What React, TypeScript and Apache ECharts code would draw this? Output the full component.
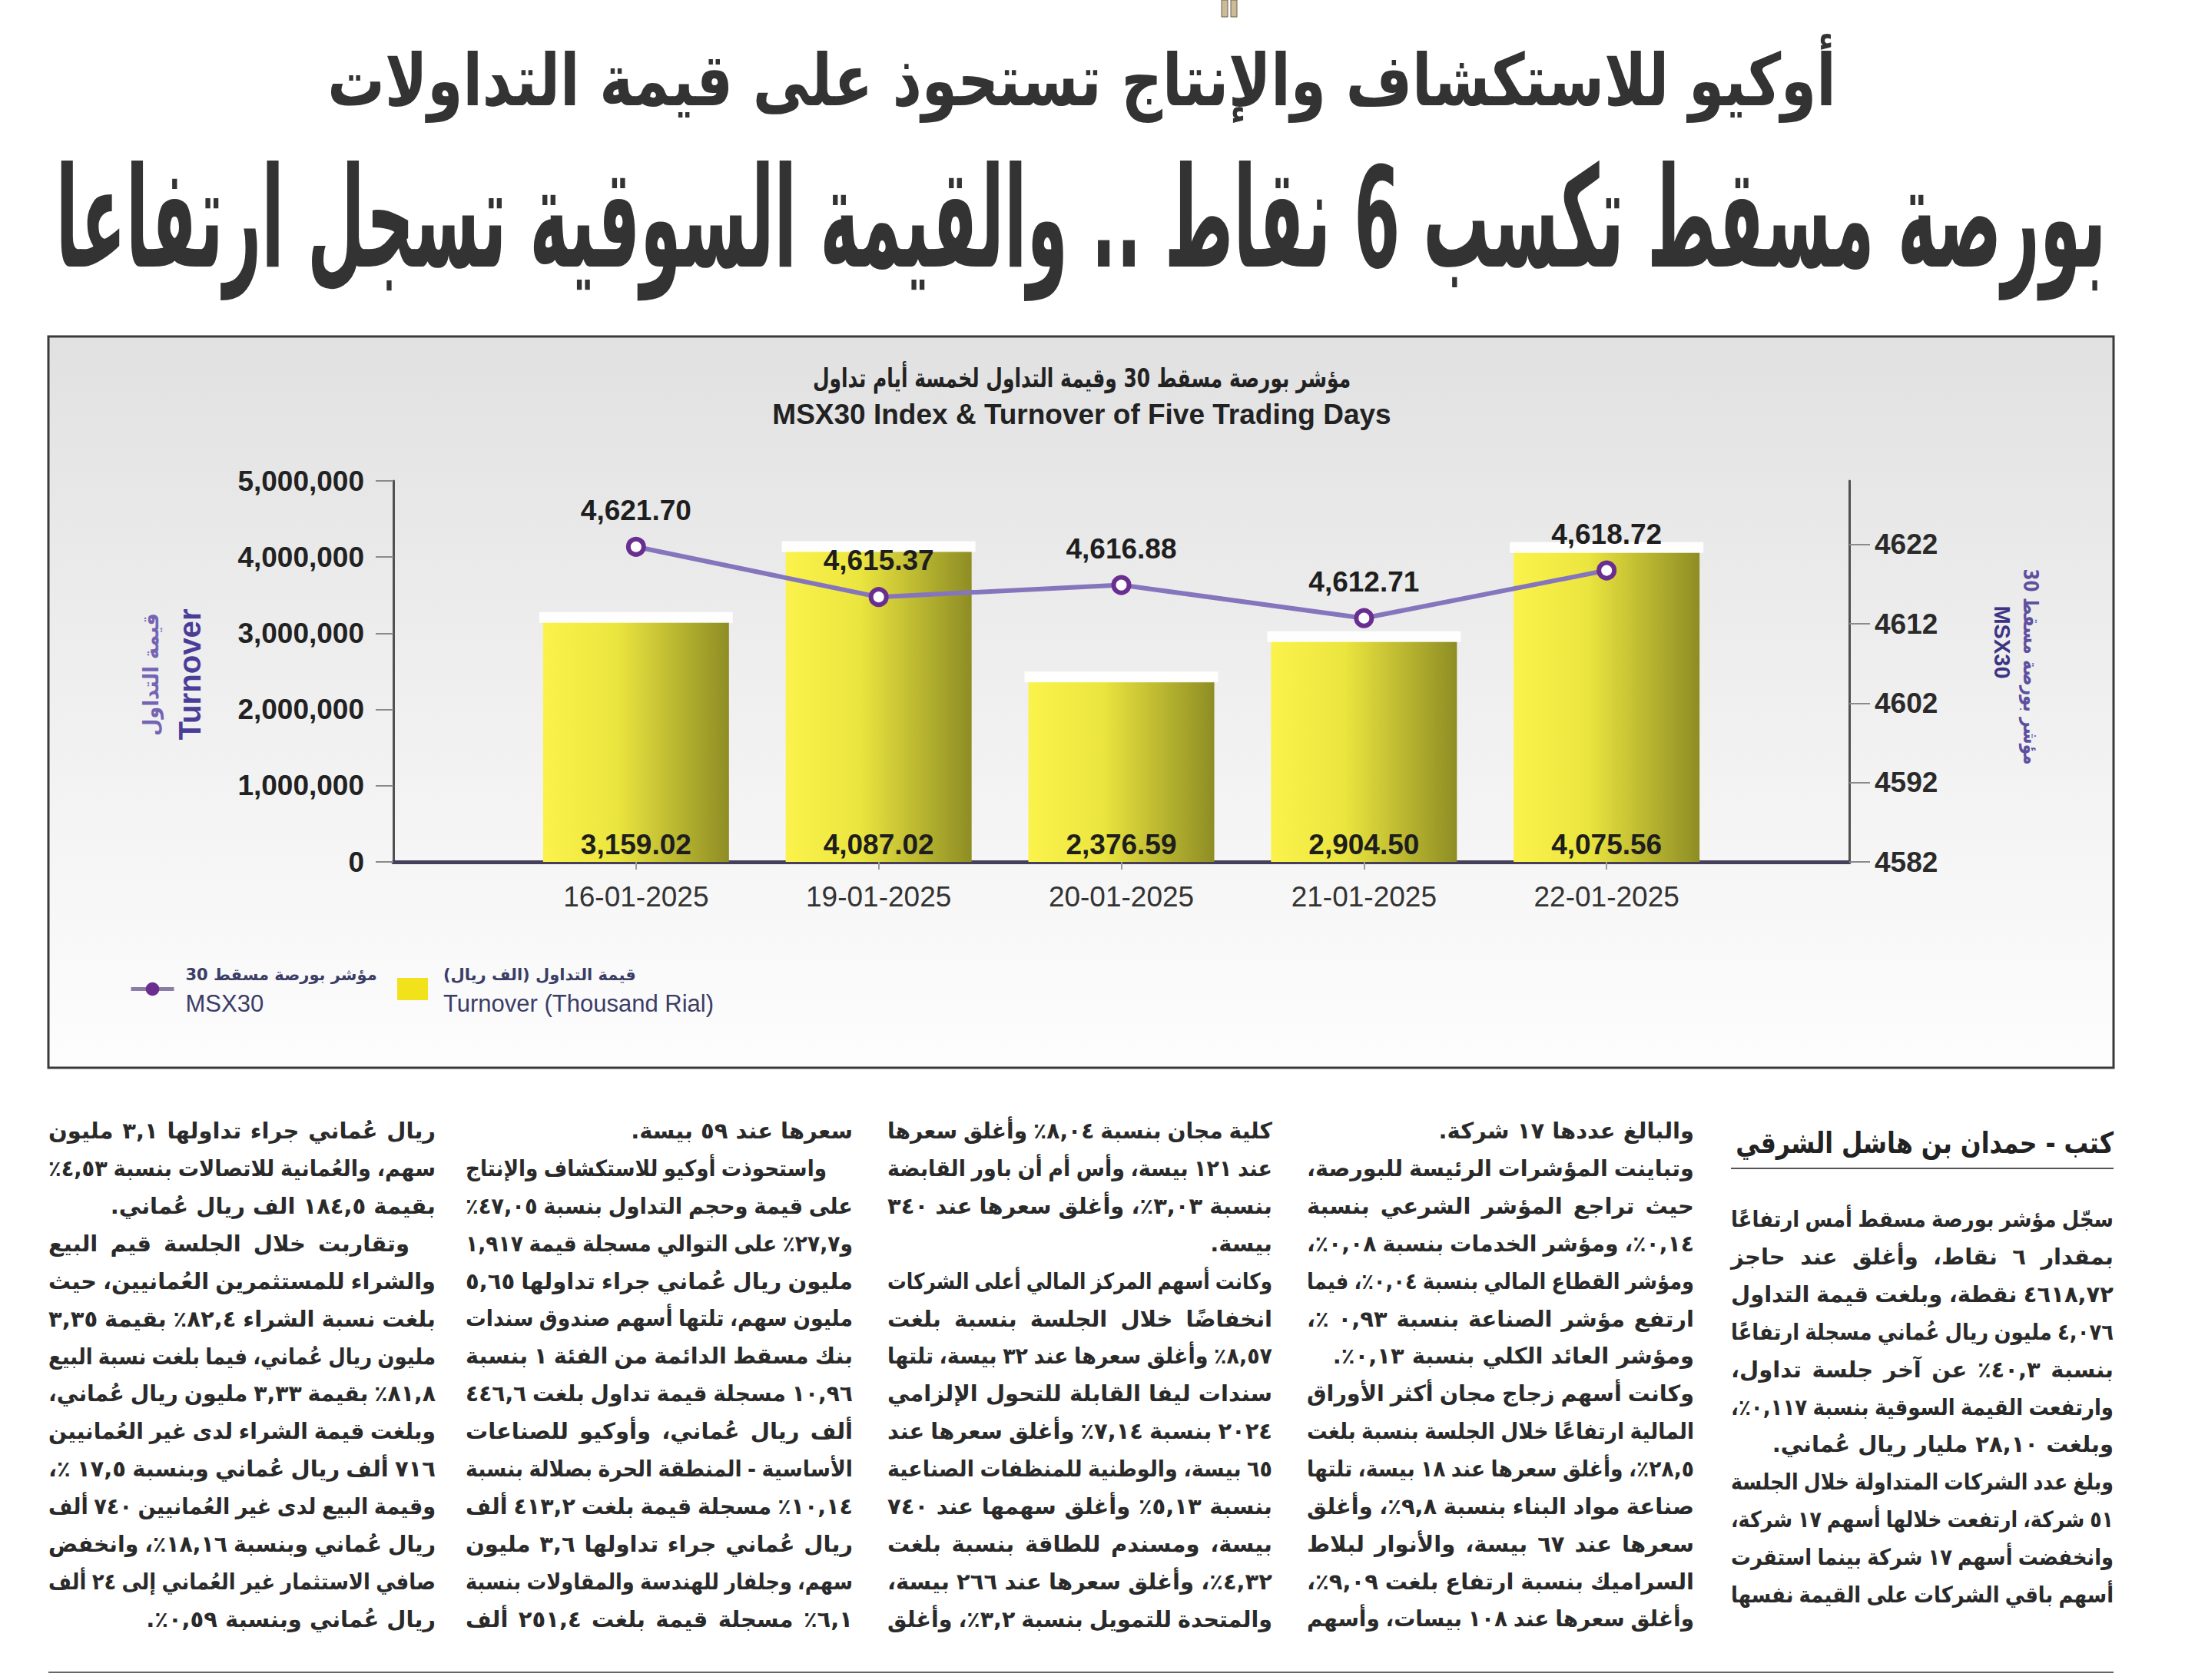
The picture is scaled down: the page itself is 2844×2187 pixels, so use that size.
import React, { useEffect, useRef } from 'react';
import * as echarts from 'echarts';

// ---------------- DATA ----------------
const dates = ['16-01-2025', '19-01-2025', '20-01-2025', '21-01-2025', '22-01-2025'];
const turnover = [3159.02, 4087.02, 2376.59, 2904.5, 4075.56]; // thousand rial
const msx30 = [4621.7, 4615.37, 4616.88, 4612.71, 4618.72];
const turnoverTickValues = [0, 1000, 2000, 3000, 4000, 5000];
const turnoverTickLabels = ['0', '1,000,000', '2,000,000', '3,000,000', '4,000,000', '5,000,000'];
const msxTickValues = [4582, 4592, 4602, 4612, 4622];
const msxTickLabels = ['4582', '4592', '4602', '4612', '4622'];

const seriesNames = ['MSX30', 'Turnover (Thousand Rial)'];
const seriesNamesAr = ['مؤشر بورصة مسقط 30', 'قيمة التداول (الف ريال)'];
const chartTitleAr = 'مؤشر بورصة مسقط 30 وقيمة التداول لخمسة أيام تداول';
const chartTitleEn = 'MSX30 Index & Turnover of Five Trading Days';
const leftAxisNames = ['قيمة التداول', 'Turnover'];
const rightAxisNames = ['مؤشر بورصة مسقط 30', 'MSX30'];

const headline1 = 'أوكيو للاستكشاف والإنتاج تستحوذ على قيمة التداولات';
const headline2 = 'بورصة مسقط تكسب 6 نقاط .. والقيمة السوقية تسجل ارتفاعا';
const byline = 'كتب - حمدان بن هاشل الشرقي';

const column1 = [
  'سجّل مؤشر بورصة مسقط أمس ارتفاعًا',
  'بمقدار ٦ نقاط، وأغلق عند حاجز',
  '٤٦١٨,٧٢ نقطة، وبلغت قيمة التداول',
  '٤,٠٧٦ مليون ريال عُماني مسجلة ارتفاعًا',
  'بنسبة ٤٠,٣٪ عن آخر جلسة تداول،',
  'وارتفعت القيمة السوقية بنسبة ٠,١١٧٪،',
  'وبلغت ٢٨,١٠ مليار ريال عُماني.',
  'وبلغ عدد الشركات المتداولة خلال الجلسة',
  '٥١ شركة، ارتفعت خلالها أسهم ١٧ شركة،',
  'وانخفضت أسهم ١٧ شركة بينما استقرت',
  'أسهم باقي الشركات على القيمة نفسها',
];
const column2 = [
  'والبالغ عددها ١٧ شركة.',
  'وتباينت المؤشرات الرئيسة للبورصة،',
  'حيث تراجع المؤشر الشرعي بنسبة',
  '٠,١٤٪، ومؤشر الخدمات بنسبة ٠,٠٨٪،',
  'ومؤشر القطاع المالي بنسبة ٠,٠٤٪، فيما',
  'ارتفع مؤشر الصناعة بنسبة ٠,٩٣ ٪،',
  'ومؤشر العائد الكلي بنسبة ٠,١٣٪.',
  'وكانت أسهم زجاج مجان أكثر الأوراق',
  'المالية ارتفاعًا خلال الجلسة بنسبة بلغت',
  '٢٨,٥٪، وأغلق سعرها عند ١٨ بيسة، تلتها',
  'صناعة مواد البناء بنسبة ٩,٨٪، وأغلق',
  'سعرها عند ٦٧ بيسة، والأنوار لبلاط',
  'السراميك بنسبة ارتفاع بلغت ٩,٠٩٪،',
  'وأغلق سعرها عند ١٠٨ بيسات، وأسهم',
];
const column3 = [
  'كلية مجان بنسبة ٨,٠٤٪ وأغلق سعرها',
  'عند ١٢١ بيسة، وأس أم أن باور القابضة',
  'بنسبة ٣,٠٣٪، وأغلق سعرها عند ٣٤٠',
  'بيسة.',
  'وكانت أسهم المركز المالي أعلى الشركات',
  'انخفاضًا خلال الجلسة بنسبة بلغت',
  '٨,٥٧٪ وأغلق سعرها عند ٣٢ بيسة، تلتها',
  'سندات ليفا القابلة للتحول الإلزامي',
  '٢٠٢٤ بنسبة ٧,١٤٪ وأغلق سعرها عند',
  '٦٥ بيسة، والوطنية للمنظفات الصناعية',
  'بنسبة ٥,١٣٪ وأغلق سهمها عند ٧٤٠',
  'بيسة، ومسندم للطاقة بنسبة بلغت',
  '٤,٣٢٪، وأغلق سعرها عند ٢٦٦ بيسة،',
  'والمتحدة للتمويل بنسبة ٣,٢٪، وأغلق',
];
const column4 = [
  'سعرها عند ٥٩ بيسة.',
  'واستحوذت أوكيو للاستكشاف والإنتاج',
  'على قيمة وحجم التداول بنسبة ٤٧,٠٥٪',
  'و٢٧,٧٪ على التوالي مسجلة قيمة ١,٩١٧',
  'مليون ريال عُماني جراء تداولها ٥,٦٥',
  'مليون سهم، تلتها أسهم صندوق سندات',
  'بنك مسقط الدائمة من الفئة ١ بنسبة',
  '١٠,٩٦ مسجلة قيمة تداول بلغت ٤٤٦,٦',
  'ألف ريال عُماني، وأوكيو للصناعات',
  'الأساسية - المنطقة الحرة بصلالة بنسبة',
  '١٠,١٤٪ مسجلة قيمة بلغت ٤١٣,٢ ألف',
  'ريال عُماني جراء تداولها ٣,٦ مليون',
  'سهم، وجلفار للهندسة والمقاولات بنسبة',
  '٦,١٪ مسجلة قيمة بلغت ٢٥١,٤ ألف',
];
const column5 = [
  'ريال عُماني جراء تداولها ٣,١ مليون',
  'سهم، والعُمانية للاتصالات بنسبة ٤,٥٣٪',
  'بقيمة ١٨٤,٥ الف ريال عُماني.',
  'وتقاربت خلال الجلسة قيم البيع',
  'والشراء للمستثمرين العُمانيين، حيث',
  'بلغت نسبة الشراء ٨٢,٤٪ بقيمة ٣,٣٥',
  'مليون ريال عُماني، فيما بلغت نسبة البيع',
  '٨١,٨٪ بقيمة ٣,٣٣ مليون ريال عُماني،',
  'وبلغت قيمة الشراء لدى غير العُمانيين',
  '٧١٦ ألف ريال عُماني وبنسبة ١٧,٥ ٪،',
  'وقيمة البيع لدى غير العُمانيين ٧٤٠ ألف',
  'ريال عُماني وبنسبة ١٨,١٦٪، وانخفض',
  'صافي الاستثمار غير العُماني إلى ٢٤ ألف',
  'ريال عُماني وبنسبة ٠,٥٩٪.',
];
const paragraphStarts = [[], [], [], [1], [3]];

// ---------------- LAYOUT ----------------
const PW = 2844;
const PH = 2187;
const AR = 'DejaVu Sans';
const EN = 'Liberation Sans';

let ctx: CanvasRenderingContext2D | null = null;
function measure(t: string, font: string) {
  if (!ctx) ctx = document.createElement('canvas').getContext('2d');
  ctx!.font = font;
  return ctx!.measureText(t).width;
}

function txt(text: string, x: number, y: number, o: any) {
  const align = o.align || 'center';
  const va = o.vAlign || 'middle';
  return {
    type: 'text',
    x,
    y,
    rotation: o.rotation || 0,
    scaleX: o.scaleX || 1,
    z: o.z ?? 10,
    silent: true,
    style: {
      text,
      fill: o.fill || '#222',
      fontSize: o.size,
      fontFamily: o.family,
      fontWeight: o.weight || 'normal',
      align,
      verticalAlign: va,
      textAlign: align,
      textVerticalAlign: va,
    },
  };
}

function fit(text: string, size: number, family: string, weight: string, target: number) {
  return target / measure(text, `${weight} ${size}px "${family}"`);
}

const fmt = (v: number) =>
  v.toLocaleString('en-US', { minimumFractionDigits: 2, maximumFractionDigits: 2 });

function bidiWrap(w: string) {
  return /[\u0660-\u066D\u060C.,%()\-0-9]/.test(w) ? '\u200F' + w + '\u200F' : w;
}

function articleElements() {
  const els: any[] = [];
  const size = 29;
  const font = `bold ${size}px "${AR}"`;
  const LH = 48.9;
  const cols = [
    { lines: column1, right: 2751, width: 498, top: 1587 },
    { lines: column2, right: 2205, width: 504, top: 1472 },
    { lines: column3, right: 1656, width: 501, top: 1472 },
    { lines: column4, right: 1110, width: 504, top: 1472 },
    { lines: column5, right: 567, width: 504, top: 1472 },
  ];
  const space = measure(' ', font);
  cols.forEach((c, ci) => {
    c.lines.forEach((line, li) => {
      const indent = paragraphStarts[ci].includes(li) ? 34 : 0;
      const words = line.split(' ').filter(Boolean).map(bidiWrap);
      const ws = words.map((w) => measure(w, font));
      const sum = ws.reduce((a, b) => a + b, 0);
      const avail = c.width - indent;
      const minGap = space * 0.8;
      const need = sum + minGap * (words.length - 1);
      const s = need > avail ? avail / need : 1;
      const justify = !line.trim().endsWith('.') && words.length > 1;
      const gap = justify ? (avail - sum * s) / (words.length - 1) : space * s;
      let x = c.right - indent;
      const y = c.top + li * LH;
      words.forEach((w, wi) => {
        els.push(txt(w, x, y, { size, family: AR, weight: 'bold', fill: '#2a2a2a', align: 'right', scaleX: s }));
        x -= ws[wi] * s + gap;
      });
    });
  });
  return els;
}

function buildOption() {
  const barW = 242;
  const xVals = dates.map((_, i) => i + 1);

  const graphics: any[] = [
    {
      type: 'rect',
      z: -10,
      silent: true,
      shape: { x: 63, y: 438, width: 2688, height: 952 },
      style: {
        fill: new echarts.graphic.LinearGradient(0, 0, 0, 1, [
          { offset: 0, color: '#e1e1e1' },
          { offset: 0.55, color: '#f1f1f1' },
          { offset: 1, color: '#fdfdfd' },
        ]),
      },
    },
    {
      type: 'rect',
      z: 20,
      silent: true,
      shape: { x: 63, y: 438, width: 2688, height: 952 },
      style: { fill: 'none', stroke: '#3a3a3a', lineWidth: 3 },
    },
    { type: 'rect', z: 5, silent: true, shape: { x: 1590, y: 0, width: 8, height: 22 }, style: { fill: '#cdbb98', stroke: '#6b6150', lineWidth: 1 } },
    { type: 'rect', z: 5, silent: true, shape: { x: 1602, y: 0, width: 8, height: 22 }, style: { fill: '#cdbb98', stroke: '#6b6150', lineWidth: 1 } },
    txt(headline1, 1408, 104, { size: 94, family: AR, weight: 'bold', fill: '#333', scaleX: fit(headline1, 94, AR, 'bold', 1964) }),
    txt(headline2, 1407, 284, { size: 182, family: AR, weight: 'bold', fill: '#333', scaleX: fit(headline2, 182, AR, 'bold', 2670) }),
    txt(chartTitleAr, 1408, 492, { size: 34, family: AR, weight: 'bold', fill: '#222', scaleX: fit(chartTitleAr, 34, AR, 'bold', 700) }),
    txt(chartTitleEn, 1408, 539, { size: 37, family: EN, weight: 'bold', fill: '#222', scaleX: fit(chartTitleEn, 37, EN, 'bold', 805) }),
    txt(leftAxisNames[0], 196, 878, { size: 28, family: AR, weight: 'bold', fill: '#7464b4', rotation: Math.PI / 2, scaleX: fit(leftAxisNames[0], 28, AR, 'bold', 160) }),
    txt(leftAxisNames[1], 247, 878, { size: 40, family: EN, weight: 'bold', fill: '#4a3d98', rotation: Math.PI / 2, scaleX: fit(leftAxisNames[1], 40, EN, 'bold', 171) }),
    txt(rightAxisNames[0], 2643, 868, { size: 26, family: AR, weight: 'bold', fill: '#5e4f9f', rotation: -Math.PI / 2, scaleX: fit(rightAxisNames[0], 26, AR, 'bold', 255) }),
    txt(rightAxisNames[1], 2606, 836, { size: 29, family: EN, weight: 'bold', fill: '#3c3483', rotation: -Math.PI / 2 }),
    txt(byline, 2751, 1488, { size: 38, family: AR, weight: 'bold', fill: '#222', align: 'right', scaleX: fit(byline, 38, AR, 'bold', 492) }),
    { type: 'line', z: 5, silent: true, shape: { x1: 2253, y1: 1521, x2: 2751, y2: 1521 }, style: { stroke: '#555', lineWidth: 2 } },
    { type: 'line', z: 5, silent: true, shape: { x1: 63, y1: 2177, x2: 2751, y2: 2177 }, style: { stroke: '#666', lineWidth: 2 } },
    ...articleElements(),
  ];

  const legendText = (ar: string) => (name: string) => `{ar|${ar}\u200F}\n{en|${name}}`;
  const legendRich = {
    ar: { fontFamily: AR, fontWeight: 'bold', fontSize: 21, color: '#3b3d66', lineHeight: 38 },
    en: { fontFamily: EN, fontSize: 31, color: '#3b3d66', lineHeight: 38 },
  };

  return {
    animation: false,
    backgroundColor: '#ffffff',
    textStyle: { fontFamily: EN },
    grid: { left: 512, right: PW - 2407, top: 626, bottom: PH - 1122, containLabel: false },
    xAxis: {
      type: 'value',
      min: 0,
      max: 6,
      axisLine: { show: true, lineStyle: { color: '#463f5a', width: 5 } },
      axisTick: { show: true, customValues: xVals, length: 10, lineStyle: { color: '#9a9a9a', width: 2 } },
      axisLabel: {
        customValues: xVals,
        formatter: (v: number) => dates[v - 1] ?? '',
        fontSize: 37,
        color: '#333',
        margin: 27,
        fontFamily: EN,
      },
      splitLine: { show: false },
    },
    yAxis: [
      {
        type: 'value',
        position: 'left',
        min: 0,
        max: 5000,
        interval: 1000,
        axisLine: { show: true, lineStyle: { color: '#505050', width: 3 } },
        axisTick: { show: true, length: 23, lineStyle: { color: '#8a8a8a', width: 2 } },
        axisLabel: {
          formatter: (v: number) => turnoverTickLabels[turnoverTickValues.indexOf(v)] ?? '',
          fontSize: 37,
          fontWeight: 'bold',
          color: '#222',
          margin: 38,
          fontFamily: EN,
        },
        splitLine: { show: false },
      },
      {
        type: 'value',
        position: 'right',
        min: 4582,
        max: 4630,
        axisLine: { show: true, lineStyle: { color: '#505050', width: 3 } },
        axisTick: { show: true, customValues: msxTickValues, length: 27, lineStyle: { color: '#8a8a8a', width: 2 } },
        axisLabel: {
          customValues: msxTickValues,
          formatter: (v: number) => msxTickLabels[msxTickValues.indexOf(v)] ?? '',
          fontSize: 37,
          fontWeight: 'bold',
          color: '#2a2a2a',
          margin: 33,
          fontFamily: EN,
        },
        splitLine: { show: false },
      },
    ],
    legend: [
      {
        left: 163,
        top: 1253,
        itemWidth: 56,
        itemHeight: 22,
        data: [
          {
            name: seriesNames[0],
            itemStyle: { color: '#6b2d8f', borderWidth: 0 },
            lineStyle: { color: '#8a7ea6', width: 5 },
          },
        ],
        formatter: legendText(seriesNamesAr[0]),
        textStyle: { rich: legendRich, padding: [0, 0, 0, 10] },
      },
      {
        left: 512,
        top: 1253,
        itemWidth: 40,
        itemHeight: 29,
        icon: 'rect',
        data: [{ name: seriesNames[1], itemStyle: { color: '#f2e21c' } }],
        formatter: legendText(seriesNamesAr[1]),
        textStyle: { rich: legendRich, padding: [0, 0, 0, 15] },
      },
    ],
    series: [
      {
        name: seriesNames[1],
        type: 'bar',
        yAxisIndex: 0,
        barWidth: barW,
        z: 2,
        data: turnover.map((v, i) => [xVals[i], v]),
        itemStyle: {
          color: new echarts.graphic.LinearGradient(0, 0, 1, 0, [
            { offset: 0, color: '#fbf34c' },
            { offset: 0.4, color: '#ebe53f' },
            { offset: 1, color: '#8e8d24' },
          ]),
        },
        label: {
          show: true,
          position: 'insideBottom',
          distance: 4,
          formatter: (p: any) => fmt(p.value[1]),
          fontSize: 37,
          fontWeight: 'bold',
          color: '#1e1e1e',
          fontFamily: EN,
        },
      },
      {
        type: 'custom',
        yAxisIndex: 0,
        z: 3,
        silent: true,
        data: turnover.map((v, i) => [xVals[i], v]),
        renderItem: (params: any, api: any) => {
          const p = api.coord([api.value(0), api.value(1)]);
          return {
            type: 'rect',
            shape: { x: p[0] - barW / 2 - 5, y: p[1] - 12, width: barW + 10, height: 14 },
            style: { fill: '#ffffff', opacity: 0.95 },
          };
        },
      },
      {
        name: seriesNames[0],
        type: 'line',
        yAxisIndex: 1,
        z: 5,
        data: msx30.map((v, i) => [xVals[i], v]),
        lineStyle: { color: '#8475bd', width: 6 },
        symbol: 'circle',
        symbolSize: 20,
        itemStyle: { color: '#ffffff', borderColor: '#6a2d90', borderWidth: 6 },
        label: {
          show: true,
          position: 'top',
          distance: 16,
          formatter: (p: any) => fmt(p.value[1]),
          fontSize: 37,
          fontWeight: 'bold',
          color: '#1e1e1e',
          fontFamily: EN,
        },
      },
    ],
    graphic: { elements: graphics },
  };
}

export default function App() {
  const ref = useRef<HTMLDivElement>(null);
  useEffect(() => {
    const chart = echarts.init(ref.current!, null, { renderer: 'svg', width: PW, height: PH });
    chart.setOption(buildOption() as any);
    return () => chart.dispose();
  }, []);
  return (
    <div
      ref={ref}
      style={{ position: 'absolute', left: 0, top: 0, width: PW, height: PH, background: '#ffffff' }}
    />
  );
}
